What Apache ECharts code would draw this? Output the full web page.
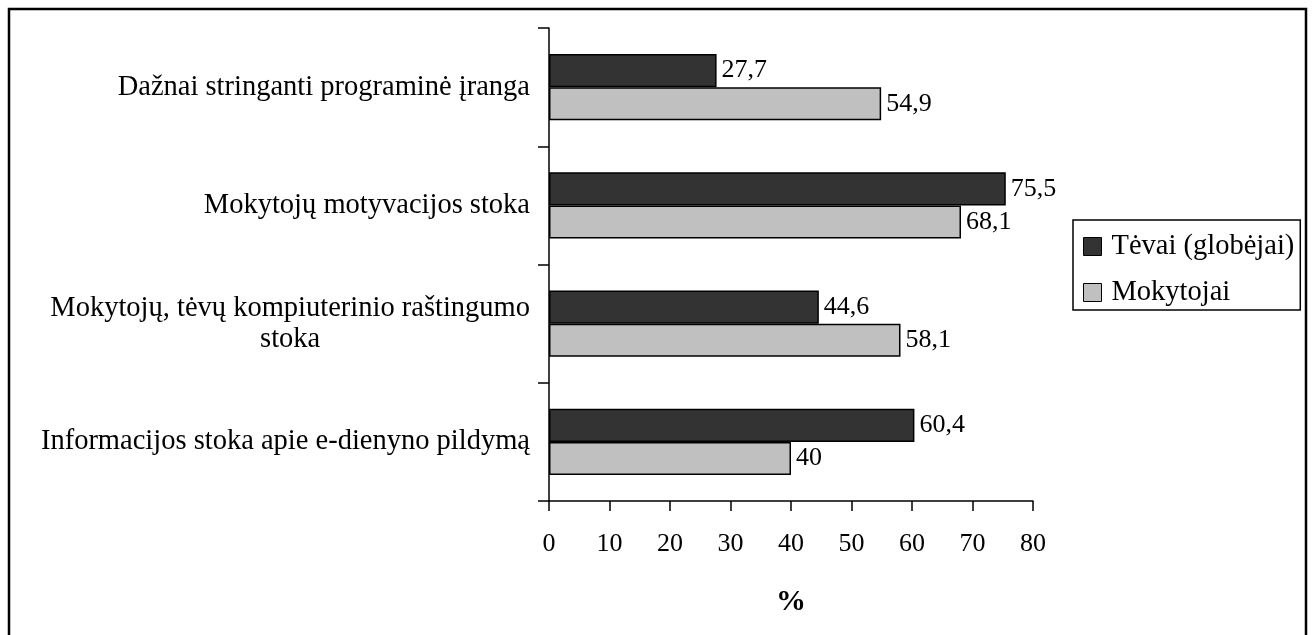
<!DOCTYPE html>
<html>
<head>
<meta charset="utf-8">
<script src="https://cdn.jsdelivr.net/npm/echarts@6/dist/echarts.min.js"></script>
<style>
  html, body { margin: 0; padding: 0; background: #fff; }
  #main { width: 1313px; height: 635px; }
</style>
</head>
<body>
<div id="main"></div>
<script>
// duomenys
var categories = [
    'Dažnai stringanti programinė įranga',
    'Mokytojų motyvacijos stoka',
    'Mokytojų, tėvų kompiuterinio raštingumo\nstoka',
    'Informacijos stoka apie e-dienyno pildymą'
];
var seriesNames = ['Tėvai (globėjai)', 'Mokytojai'];
var parents = [27.7, 75.5, 44.6, 60.4];
var teachers = [54.9, 68.1, 58.1, 40];
var xTicks = [0, 10, 20, 30, 40, 50, 60, 70, 80];

var FONT = "'Liberation Serif', 'Times New Roman', serif";
var myChart = echarts.init(document.getElementById('main'));

function comma(p) {
    return String(p.value).replace('.', ',');
}

var option = {
    backgroundColor: '#fff',
    animation: false,
    textStyle: { fontFamily: FONT, color: '#000' },
    graphic: [{
        type: 'rect',
        shape: { x: 9, y: 9, width: 1297, height: 640 },
        style: { fill: 'none', stroke: '#000', lineWidth: 2.5 },
        silent: true
    }],
    legend: {
        orient: 'vertical',
        left: 1073,
        top: 220,
        data: seriesNames,
        itemWidth: 18,
        itemHeight: 18,
        itemGap: 17,
        padding: [12, 6, 3, 10],
        borderColor: '#000',
        borderWidth: 1.5,
        borderRadius: 0,
        icon: 'rect',
        itemStyle: { borderColor: '#000', borderWidth: 1 },
        textStyle: { fontFamily: FONT, fontSize: 28.5, color: '#000', padding: [0, 0, 0, 5] }
    },
    grid: {
        left: 549,
        right: 280,
        top: 28,
        bottom: 134,
        containLabel: false
    },
    xAxis: {
        type: 'value',
        min: 0,
        max: 80,
        interval: 10,
        name: '%',
        nameLocation: 'middle',
        nameGap: 86,
        nameTextStyle: { fontFamily: FONT, fontSize: 30, fontWeight: 'bold', color: '#000' },
        axisLine: { show: true, lineStyle: { color: '#000', width: 1.5 } },
        axisTick: { show: true, length: 10, lineStyle: { color: '#000', width: 1.5 } },
        axisLabel: {
            fontFamily: FONT, fontSize: 26, color: '#000', margin: 30,
            formatter: function (v) { return xTicks.indexOf(v) >= 0 ? String(v) : ''; }
        },
        splitLine: { show: false }
    },
    yAxis: {
        type: 'category',
        inverse: true,
        data: categories,
        axisLine: { show: true, lineStyle: { color: '#000', width: 1.5 } },
        axisTick: { show: true, length: 11, lineStyle: { color: '#000', width: 1.5 } },
        axisLabel: {
            fontFamily: FONT, fontSize: 28.5, color: '#000', margin: 19,
            lineHeight: 31,
            formatter: function (v) {
                return v.split('\n').map(function (l) { return '{c|' + l + '}'; }).join('\n');
            },
            rich: { c: { align: 'center', fontFamily: FONT, fontSize: 28.5, color: '#000', lineHeight: 31 } }
        }
    },
    series: [
        {
            name: seriesNames[0],
            type: 'bar',
            data: parents,
            barGap: '0%',
            barCategoryGap: '44%',
            itemStyle: { color: '#333333', borderColor: '#000', borderWidth: 1.5 },
            label: {
                show: true, position: 'right', distance: 5,
                fontFamily: FONT, fontSize: 26, color: '#000',
                formatter: comma
            }
        },
        {
            name: seriesNames[1],
            type: 'bar',
            data: teachers,
            barGap: '0%',
            barCategoryGap: '44%',
            itemStyle: { color: '#c0c0c0', borderColor: '#000', borderWidth: 1.5 },
            label: {
                show: true, position: 'right', distance: 5,
                fontFamily: FONT, fontSize: 26, color: '#000',
                formatter: comma
            }
        }
    ]
};

myChart.setOption(option);
</script>
</body>
</html>
